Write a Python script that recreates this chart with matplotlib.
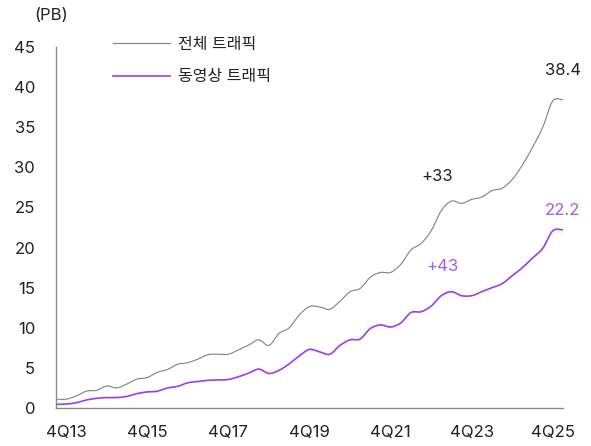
import matplotlib
matplotlib.use("Agg")
import matplotlib.pyplot as plt
from matplotlib.lines import Line2D
from matplotlib.path import Path
from matplotlib.patches import PathPatch

plt.rcParams['font.family'] = ['Inter', 'Noto Sans CJK KR', 'DejaVu Sans']

# quarters from 3Q13 to 1Q26
quarters = []
for y in range(13, 27):
    for q in range(1, 5):
        quarters.append(f"{q}Q{y}")
quarters = quarters[quarters.index("3Q13"):quarters.index("1Q26") + 1]

total_traffic = [1.1, 1.1, 1.5, 2.1, 2.2, 2.75, 2.5, 3.0, 3.6, 3.8,
                 4.45, 4.8, 5.45, 5.65, 6.1, 6.65, 6.7, 6.7, 7.25, 7.85,
                 8.5, 7.8, 9.3, 10.0, 11.6, 12.65, 12.6, 12.3, 13.3, 14.5,
                 14.9, 16.3, 16.9, 16.9, 17.9, 19.7, 20.5, 22.1, 24.6, 25.8,
                 25.5, 26.0, 26.3, 27.1, 27.4, 28.5, 30.3, 32.5, 35.0, 38.3,
                 38.4]
video_traffic = [0.45, 0.5, 0.66, 1.0, 1.2, 1.3, 1.3, 1.45, 1.8, 2.0,
                 2.1, 2.5, 2.7, 3.15, 3.3, 3.45, 3.5, 3.55, 3.9, 4.35,
                 4.85, 4.3, 4.7, 5.5, 6.5, 7.3, 7.0, 6.7, 7.8, 8.5,
                 8.6, 9.9, 10.35, 10.1, 10.6, 11.9, 12.0, 12.7, 14.0, 14.5,
                 14.0, 14.0, 14.5, 15.0, 15.5, 16.5, 17.5, 18.7, 19.9, 22.1,
                 22.2]

tick_labels = ["4Q13", "4Q15", "4Q17", "4Q19", "4Q21", "4Q23", "4Q25"]
y_ticks = [0, 5, 10, 15, 20, 25, 30, 35, 40, 45]
series_names = ["전체 트래픽", "동영상 트래픽"]
end_labels = ["38.4", "22.2"]
growth_labels = ["+33", "+43"]

GRAY = "#808080"
PURPLE = "#9B3FE6"
PURPLE_TXT = "#A55CE8"
TXT = "#222222"


def smooth_path(xs, ys):
    """Smoothed line style (Catmull-Rom as cubic Bezier segments) through the data points."""
    n = len(xs)
    verts = [(xs[0], ys[0])]
    codes = [Path.MOVETO]
    for i in range(n - 1):
        x0, y0 = xs[max(i - 1, 0)], ys[max(i - 1, 0)]
        x1, y1 = xs[i], ys[i]
        x2, y2 = xs[i + 1], ys[i + 1]
        x3, y3 = xs[min(i + 2, n - 1)], ys[min(i + 2, n - 1)]
        c1 = (x1 + (x2 - x0) / 6.0, y1 + (y2 - y0) / 6.0)
        c2 = (x2 - (x3 - x1) / 6.0, y2 - (y3 - y1) / 6.0)
        verts += [c1, c2, (x2, y2)]
        codes += [Path.CURVE4] * 3
    return Path(verts, codes)


W, H = 591, 446
fig = plt.figure(figsize=(W / 100, H / 100), dpi=100)
ax = fig.add_axes([56 / W, (H - 408) / H, 507 / W, 361 / H])

x = list(range(len(quarters)))
ax.add_patch(PathPatch(smooth_path(x, total_traffic), facecolor='none', edgecolor=GRAY, lw=0.8,
                       capstyle='butt', joinstyle='round'))
ax.add_patch(PathPatch(smooth_path(x, video_traffic), facecolor='none', edgecolor=PURPLE, lw=1.2,
                       capstyle='butt', joinstyle='round'))

ax.set_xlim(0, len(quarters) - 1)
ax.set_ylim(0, 45)
ax.set_yticks(y_ticks)
ax.set_yticklabels([str(v) for v in y_ticks], fontsize=12, color=TXT)
ax.set_xticks([quarters.index(t) for t in tick_labels])
ax.set_xticklabels(tick_labels, fontsize=12, color=TXT)
ax.tick_params(axis='both', length=0)
ax.tick_params(axis='y', pad=15)
ax.tick_params(axis='x', pad=12)
for s in ['top', 'right']:
    ax.spines[s].set_visible(False)
for s in ['left', 'bottom']:
    ax.spines[s].set_color('#8a8a8a')
    ax.spines[s].set_linewidth(1.0)

# unit label
fig.text(51 / W, 1 - 16 / H, "(PB)", ha='center', va='center', fontsize=12, color=TXT)

# legend
fig.add_artist(Line2D([113 / W, 170 / W], [1 - 43 / H, 1 - 43 / H], color=GRAY, lw=0.8))
fig.add_artist(Line2D([113 / W, 170 / W], [1 - 76 / H, 1 - 76 / H], color=PURPLE, lw=1.2))
fig.text(178 / W, 1 - 44 / H, series_names[0], ha='left', va='center', fontsize=11.5, color=TXT)
fig.text(178 / W, 1 - 77 / H, series_names[1], ha='left', va='center', fontsize=11.5, color=TXT)

# annotations
last = len(quarters) - 1
ax.annotate(end_labels[0], (last, total_traffic[-1]), xytext=(0, 21), textcoords='offset points',
            ha='center', va='center', fontsize=12, color=TXT, annotation_clip=False)
ax.annotate(end_labels[1], (last, video_traffic[-1]), xytext=(0, 14), textcoords='offset points',
            ha='center', va='center', fontsize=12, color=PURPLE_TXT, annotation_clip=False)
ax.text(37.6, 28.9, growth_labels[0], ha='center', va='center', fontsize=12, color=TXT)
ax.text(38.1, 17.7, growth_labels[1], ha='center', va='center', fontsize=12, color=PURPLE_TXT)

fig.savefig("out.png", dpi=100)
